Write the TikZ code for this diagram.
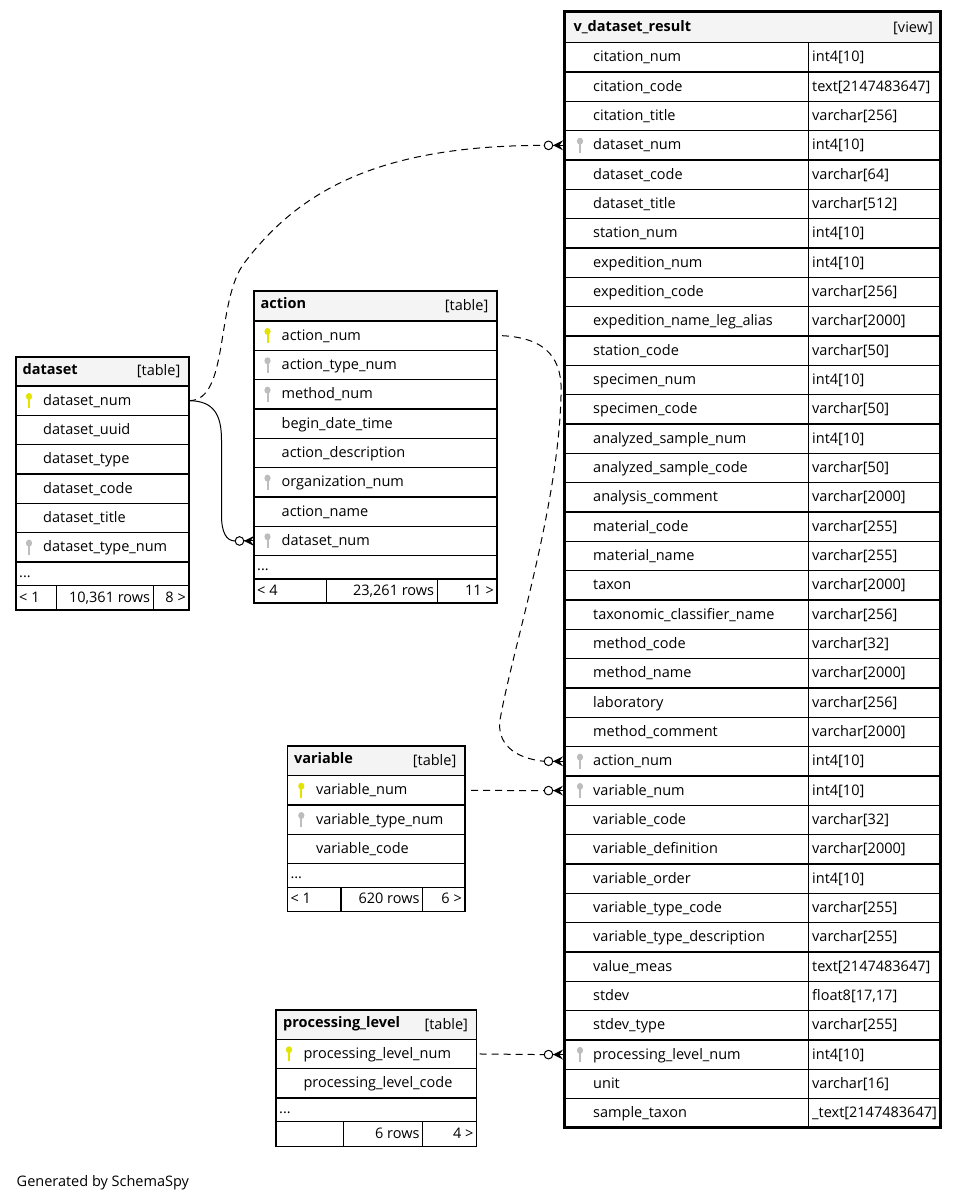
\documentclass[tikz,border=0pt]{standalone}
\usepackage{fontspec}
\setmainfont{Open Sans}
\definecolor{hdrgray}{HTML}{F4F4F4}
\definecolor{pkyellow}{HTML}{E3E300}
\definecolor{fkgray}{HTML}{BDBDBD}
\newcommand\fs{\fontsize{14.5}{17}\selectfont}
\tikzset{
  cell/.style={line width=1.2pt},
  vcell/.style={line width=1.3pt},
  viewline/.style={line width=3pt},
  txt/.style={anchor=base west, inner sep=0pt, font=\fs},
  rtxt/.style={anchor=base east, inner sep=0pt, font=\fs},
  ttl/.style={anchor=base west, inner sep=0pt, font=\fs\bfseries},
  rel/.style={line width=1pt},
  reldash/.style={rel, dash pattern=on 7pt off 5pt},
}
\newcommand\keyicon[3]{%
  \path[fill=#3] (#1,#2-4.2) ellipse [x radius=3.1, y radius=3.5];
  \path[fill=#3] (#1-1,#2-1.5) rectangle (#1+1,#2+7.5);
}
\newcommand\crowto[1]{%
  \begin{scope}[shift={(#1)}]
    \fill (-10,0) -- (0,-5) -- (-3.5,0) -- (0,5) -- cycle;
    \draw[rel] (-10,0) -- (0,0);
    \draw[rel, fill=white] (-14.5,0) circle [radius=4.3];
  \end{scope}}
\begin{document}
\begin{tikzpicture}[x=1pt,y=-1pt]
\useasboundingbox[fill=white] (0,0) rectangle (959,1201);

% ================= dataset
\def\xL{16}\def\xR{189}\def\xT{357}\def\xH{386}\def\xE{562}\def\xD{585.7}\def\xB{610}
\fill[hdrgray] (\xL,\xT) rectangle (\xR,\xH);
\node[ttl] (ds-title) at (\xL+6.5,\xT+17) {dataset};
\node[rtxt] (ds-kind) at (\xR-8.5,\xT+18.5) {[table]};
\foreach \t/\k [count=\i from 0] in {dataset\_num/pkyellow, dataset\_uuid/none, dataset\_type/none, dataset\_code/none, dataset\_title/none, dataset\_type\_num/fkgray}{
  \node[txt] (ds-\i) at (\xL+27,\xH+\i*29.33+19.2) {\t};
  \keyicon{\xL+13}{\xH+\i*29.33+14.67}{\k}
  \draw[cell] (\xL,\xH+\i*29.33+29.33) -- (\xR,\xH+\i*29.33+29.33);
}
\node[txt] (ds-dots) at (\xL+3,\xE+15) {...};
\draw[cell] (\xL,\xD) -- (\xR,\xD);
\draw[cell] (56.7,\xD) -- (56.7,\xB);
\draw[cell] (153.3,\xD) -- (153.3,\xB);
\node[txt] (ds-f1) at (\xL+3,\xB-8) {< 1};
\node[rtxt] (ds-f2) at (153.3-3,\xB-8) {10,361 rows};
\node[rtxt] (ds-f3) at (\xR-3,\xB-8) {8 >};
\draw[cell] (\xL,\xH) -- (\xR,\xH);
\draw[cell] (\xL,\xT) rectangle (\xR,\xB);
\coordinate (ds-pk) at (\xR,\xH+14.67);

% ================= action
\def\xL{254}\def\xR{497}\def\xT{291}\def\xH{321}\def\xE{555.7}\def\xD{579}\def\xB{603}
\fill[hdrgray] (\xL,\xT) rectangle (\xR,\xH);
\node[ttl] (act-title) at (\xL+6.5,\xT+17.5) {action};
\node[rtxt] (act-kind) at (\xR-8.5,\xT+19) {[table]};
\foreach \t/\k [count=\i from 0] in {action\_num/pkyellow, action\_type\_num/fkgray, method\_num/fkgray, begin\_date\_time/none, action\_description/none, organization\_num/fkgray, action\_name/none, dataset\_num/fkgray}{
  \node[txt] (act-\i) at (\xL+27.5,\xH+\i*29.33+19.2) {\t};
  \keyicon{\xL+13.5}{\xH+\i*29.33+14.67}{\k}
  \draw[cell] (\xL,\xH+\i*29.33+29.33) -- (\xR,\xH+\i*29.33+29.33);
}
\node[txt] (act-dots) at (\xL+3,\xE+15) {...};
\draw[cell] (\xL,\xD) -- (\xR,\xD);
\draw[cell] (326.3,\xD) -- (326.3,\xB);
\draw[cell] (437.3,\xD) -- (437.3,\xB);
\node[txt] (act-f1) at (\xL+3,\xB-8) {< 4};
\node[rtxt] (act-f2) at (437.3-3,\xB-8) {23,261 rows};
\node[rtxt] (act-f3) at (\xR-3,\xB-8) {11 >};
\draw[cell] (\xL,\xH) -- (\xR,\xH);
\draw[cell] (\xL,\xT) rectangle (\xR,\xB);
\coordinate (act-pk) at (\xR,\xH+14.67);
\coordinate (act-fk) at (\xL,\xH+7*29.33+14.67);
\coordinate (c-act) at ([xshift=-18.8pt]act-fk);

% ================= variable
\def\xL{287.3}\def\xR{465}\def\xT{746}\def\xH{775.7}\def\xE{863.7}\def\xD{887.7}\def\xB{911.7}
\fill[hdrgray] (\xL,\xT) rectangle (\xR,\xH);
\node[ttl] (var-title) at (\xL+6.5,\xT+17.5) {variable};
\node[rtxt] (var-kind) at (\xR-8.5,\xT+19) {[table]};
\foreach \t/\k [count=\i from 0] in {variable\_num/pkyellow, variable\_type\_num/fkgray, variable\_code/none}{
  \node[txt] (var-\i) at (\xL+28.5,\xH+\i*29.33+19.2) {\t};
  \keyicon{\xL+14}{\xH+\i*29.33+14.67}{\k}
  \draw[cell] (\xL,\xH+\i*29.33+29.33) -- (\xR,\xH+\i*29.33+29.33);
}
\node[txt] (var-dots) at (\xL+3,\xE+15) {...};
\draw[cell] (\xL,\xD) -- (\xR,\xD);
\draw[cell] (341,\xD) -- (341,\xB);
\draw[cell] (422.7,\xD) -- (422.7,\xB);
\node[txt] (var-f1) at (\xL+3,\xB-8) {< 1};
\node[rtxt] (var-f2) at (422.7-3,\xB-8) {620 rows};
\node[rtxt] (var-f3) at (\xR-3,\xB-8) {6 >};
\draw[cell] (\xL,\xH) -- (\xR,\xH);
\draw[cell] (\xL,\xT) rectangle (\xR,\xB);
\coordinate (var-pk) at (\xR,\xH+14.67);

% ================= processing_level
\def\xL{276}\def\xR{476.7}\def\xT{1010}\def\xH{1039.3}\def\xE{1098}\def\xD{1121.7}\def\xB{1146.7}
\fill[hdrgray] (\xL,\xT) rectangle (\xR,\xH);
\node[ttl] (pl-title) at (\xL+7,\xT+17.5) {processing\_level};
\node[rtxt] (pl-kind) at (\xR-8.5,\xT+19) {[table]};
\foreach \t/\k [count=\i from 0] in {processing\_level\_num/pkyellow, processing\_level\_code/none}{
  \node[txt] (pl-\i) at (\xL+27.3,\xH+\i*29.33+19.2) {\t};
  \keyicon{\xL+13}{\xH+\i*29.33+14.67}{\k}
  \draw[cell] (\xL,\xH+\i*29.33+29.33) -- (\xR,\xH+\i*29.33+29.33);
}
\node[txt] (pl-dots) at (\xL+3,\xE+15) {...};
\draw[cell] (\xL,\xD) -- (\xR,\xD);
\draw[cell] (343.3,\xD) -- (343.3,\xB);
\draw[cell] (422.7,\xD) -- (422.7,\xB);
\node[rtxt] (pl-f2) at (422.7-3,\xB-8) {6 rows};
\node[rtxt] (pl-f3) at (\xR-3,\xB-8) {4 >};
\draw[cell] (\xL,\xH) -- (\xR,\xH);
\draw[cell] (\xL,\xT) rectangle (\xR,\xB);
\coordinate (pl-pk) at (\xR,\xH+14.67);

% ================= v_dataset_result
\def\xL{564.5}\def\xR{940.5}\def\xT{11.8}\def\xH{42.7}\def\xC{808.8}\def\xB{1127.9}
\fill[hdrgray] (\xL,\xT) rectangle (\xR,\xH);
\node[ttl] (v-title) at (573.3,\xT+19.5) {v\_dataset\_result};
\node[rtxt] (v-kind) at (933,\xT+21) {[view]};
\foreach \t/\ty/\k [count=\i from 0] in {
 citation\_num/{int4[10]}/none,
 citation\_code/{text[2147483647]}/none,
 citation\_title/{varchar[256]}/none,
 dataset\_num/{int4[10]}/fkgray,
 dataset\_code/{varchar[64]}/none,
 dataset\_title/{varchar[512]}/none,
 station\_num/{int4[10]}/none,
 expedition\_num/{int4[10]}/none,
 expedition\_code/{varchar[256]}/none,
 expedition\_name\_leg\_alias/{varchar[2000]}/none,
 station\_code/{varchar[50]}/none,
 specimen\_num/{int4[10]}/none,
 specimen\_code/{varchar[50]}/none,
 analyzed\_sample\_num/{int4[10]}/none,
 analyzed\_sample\_code/{varchar[50]}/none,
 analysis\_comment/{varchar[2000]}/none,
 material\_code/{varchar[255]}/none,
 material\_name/{varchar[255]}/none,
 taxon/{varchar[2000]}/none,
 taxonomic\_classifier\_name/{varchar[256]}/none,
 method\_code/{varchar[32]}/none,
 method\_name/{varchar[2000]}/none,
 laboratory/{varchar[256]}/none,
 method\_comment/{varchar[2000]}/none,
 action\_num/{int4[10]}/fkgray,
 variable\_num/{int4[10]}/fkgray,
 variable\_code/{varchar[32]}/none,
 variable\_definition/{varchar[2000]}/none,
 variable\_order/{int4[10]}/none,
 variable\_type\_code/{varchar[255]}/none,
 variable\_type\_description/{varchar[255]}/none,
 value\_meas/{text[2147483647]}/none,
 stdev/{float8[17,17]}/none,
 stdev\_type/{varchar[255]}/none,
 processing\_level\_num/{int4[10]}/fkgray,
 unit/{varchar[16]}/none,
 sample\_taxon/{\_text[2147483647]}/none}{
  \node[txt] (v-\i) at (593,\xH+\i*29.33+19.2) {\t};
  \node[txt] (vt-\i) at (812,\xH+\i*29.33+19.2) {\ty};
  \keyicon{580}{\xH+\i*29.33+14.67}{\k}
  \draw[vcell] (\xL,\xH+\i*29.33) -- (\xR,\xH+\i*29.33);
}
\draw[vcell] (\xC,\xH) -- (\xC,\xB);
\draw[viewline] (\xL,\xT) rectangle (\xR,\xB);
\coordinate (v-ds) at (563,\xH+3*29.33+14.67);
\coordinate (v-act) at (563,\xH+24*29.33+14.67);
\coordinate (v-var) at (563,\xH+25*29.33+14.67);
\coordinate (v-pl) at (563,\xH+34*29.33+14.67);
\coordinate (c-vds) at ([xshift=-18.8pt]v-ds);
\coordinate (c-vact) at ([xshift=-18.8pt]v-act);
\coordinate (c-vvar) at ([xshift=-18.8pt]v-var);
\coordinate (c-vpl) at ([xshift=-18.8pt]v-pl);

% ================= connectors
\draw[reldash] (ds-pk) .. controls (230,401) and (215,300) .. (245,262)
   .. controls (300,190) and (380,145.4) .. (c-vds);
\draw[rel] (ds-pk) .. controls (214,400.8) and (221.5,415) .. (221.5,440)
   -- (221.5,515) .. controls (221.5,532) and (226,541) .. (c-act);
\draw[reldash] ([xshift=5pt]act-pk) .. controls (548,338) and (563,360) .. (561,396)
   .. controls (558,510) and (512,650) .. (500,720)
   .. controls (497,742) and (512,758) .. (c-vact);
\draw[reldash] ([xshift=6pt]var-pk) -- (c-vvar);
\draw[reldash] ([xshift=3pt]pl-pk) -- (c-vpl);
\crowto{v-ds}
\crowto{v-act}
\crowto{v-var}
\crowto{v-pl}
\crowto{act-fk}

\node[txt] (gen) at (16.5,1186.5) {Generated by SchemaSpy};
\end{tikzpicture}
\end{document}
